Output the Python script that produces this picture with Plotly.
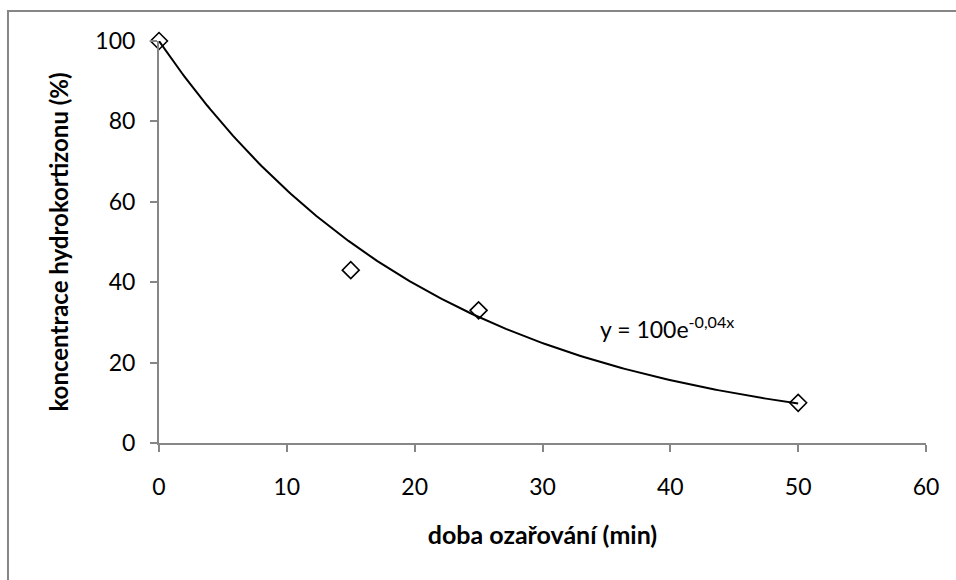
import numpy as np
import plotly.graph_objects as go

# data
doba = [0, 15, 25, 50]
koncentrace = [100, 43, 33, 10]
fit_a = 100
fit_b = -0.0464  # displayed rounded as -0,04
x_ticks = [0, 10, 20, 30, 40, 50, 60]
y_ticks = [0, 20, 40, 60, 80, 100]

xf = np.linspace(0, 50, 200)
yf = fit_a * np.exp(fit_b * xf)

FONT = "Lato"
GRAY = "#868686"

fig = go.Figure()
fig.add_trace(go.Scatter(
    x=doba, y=koncentrace, mode="markers",
    marker=dict(symbol="diamond", size=13, color="white",
                line=dict(color="black", width=1.6)),
    showlegend=False, cliponaxis=False))
fig.add_trace(go.Scatter(
    x=xf, y=yf, mode="lines", line=dict(color="black", width=2),
    showlegend=False, cliponaxis=False))

fig.update_layout(
    width=956, height=580,
    margin=dict(l=159, r=30, t=41, b=137),
    paper_bgcolor="white", plot_bgcolor="white",
    font=dict(family=FONT, size=23, color="black"),
    xaxis=dict(range=[0, 60], tickvals=x_ticks, showgrid=False, zeroline=False,
               showline=True, linecolor=GRAY, linewidth=2,
               ticks="outside", ticklen=7, tickwidth=2, tickcolor=GRAY,
               ticklabelstandoff=15, tickfont=dict(size=23),
               title=dict(text="<b>doba ozařování (min)</b>", font=dict(size=25), standoff=28)),
    yaxis=dict(range=[0, 100], tickvals=y_ticks, showgrid=False, zeroline=False,
               showline=True, linecolor=GRAY, linewidth=2,
               ticks="outside", ticklen=7, tickwidth=2, tickcolor=GRAY,
               ticklabelstandoff=10, tickfont=dict(size=23),
               title=dict(text="<b>koncentrace hydrokortizonu (%)</b>", font=dict(size=24), standoff=20)),
    annotations=[dict(x=39.7, y=28.8, xref="x", yref="y",
                      text="y = 100e<sup>-0,04x</sup>", showarrow=False,
                      font=dict(size=23), xanchor="center", yanchor="middle")],
    shapes=[dict(type="rect", xref="paper", yref="paper",
                 x0=-0.1969, x1=1.05, y0=-0.36, y1=1.0746,
                 line=dict(color=GRAY, width=2), layer="below")],
)

fig.write_html("out.html")
